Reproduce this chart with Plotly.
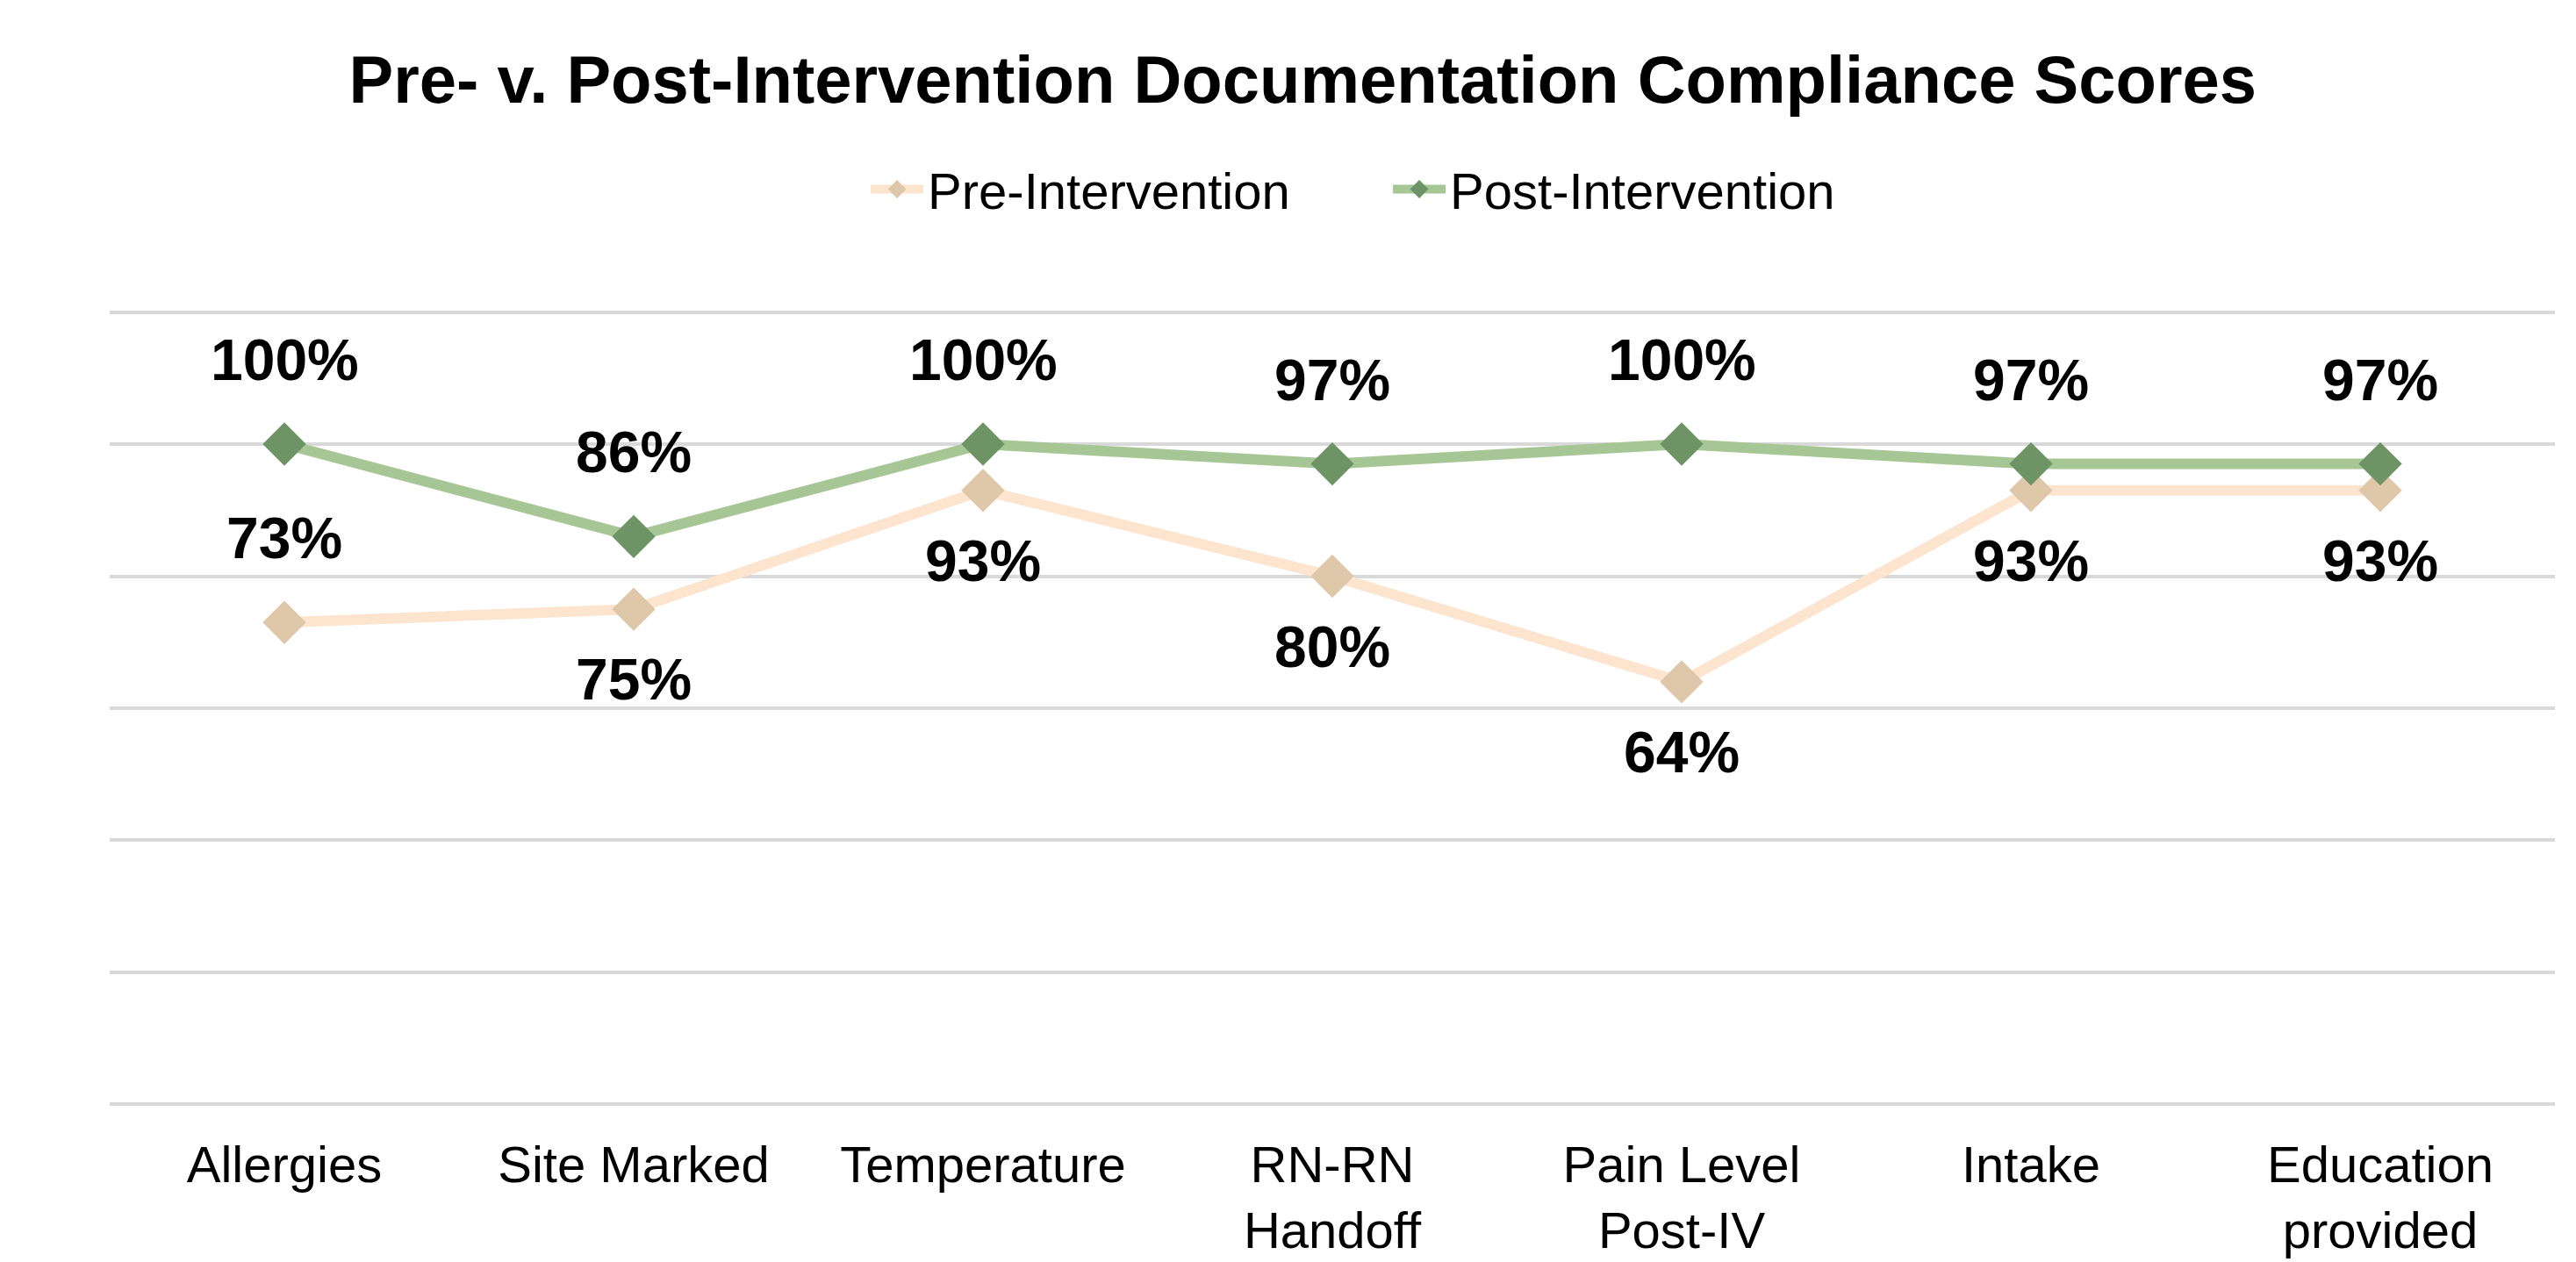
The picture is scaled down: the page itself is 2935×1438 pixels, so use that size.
import plotly.graph_objects as go

categories = ["Allergies", "Site Marked", "Temperature", "RN-RN<br>Handoff",
              "Pain Level<br>Post-IV", "Intake", "Education<br>provided"]
pre_values = [73, 75, 93, 80, 64, 93, 93]
post_values = [100, 86, 100, 97, 100, 97, 97]
pre_label_pos = ["above", "below", "below", "below", "below", "below", "below"]
post_label_pos = ["above"] * 7

FONT = "Liberation Sans, Arial, sans-serif"
PRE_LINE = "#FCE4CF"
PRE_MARK = "#DFC7A9"
POST_LINE = "#A7C695"
POST_MARK = "#6E9465"

fig = go.Figure()
fig.add_trace(go.Scatter(
    x=categories, y=pre_values, name="Pre-Intervention", mode="lines+markers",
    line=dict(color=PRE_LINE, width=12),
    marker=dict(symbol="diamond", size=38, color=PRE_MARK),
))
fig.add_trace(go.Scatter(
    x=categories, y=post_values, name="Post-Intervention", mode="lines+markers",
    line=dict(color=POST_LINE, width=12),
    marker=dict(symbol="diamond", size=38, color=POST_MARK),
))

annotations = []
for vals, poss in ((pre_values, pre_label_pos), (post_values, post_label_pos)):
    for c, v, p in zip(categories, vals, poss):
        annotations.append(dict(
            x=c, y=v, xref="x", yref="y", text=f"<b>{v}%</b>", showarrow=False,
            yanchor="middle", xanchor="center", yshift=96 if p == "above" else -80,
            font=dict(family=FONT, size=66, color="#000000"),
        ))

fig.update_layout(
    width=2935, height=1438, autosize=False,
    paper_bgcolor="#FFFFFF", plot_bgcolor="#FFFFFF",
    margin=dict(l=117, r=32, t=340, b=169),
    font=dict(family=FONT, color="#000000"),
    title=dict(text="<b>Pre- v. Post-Intervention Documentation Compliance Scores</b>",
               x=0.503, xanchor="center", xref="container",
               y=1 - 82 / 1438, yanchor="middle", yref="container",
               font=dict(family=FONT, size=76, color="#000000")),
    legend=dict(orientation="h", x=0.523, xanchor="center", y=1.144, yanchor="middle",
                font=dict(family=FONT, size=58, color="#000000"),
                itemwidth=60, entrywidth=520, traceorder="normal",
                bgcolor="rgba(0,0,0,0)"),
    annotations=annotations,
    showlegend=True,
)
fig.update_xaxes(type="category", range=[-0.5, 6.5], showgrid=False, zeroline=False,
                 showline=False, ticks="", ticklabelstandoff=22,
                 tickfont=dict(family=FONT, size=58, color="#000000"))
fig.update_yaxes(range=[-1, 121], dtick=20, tick0=0, showgrid=True, gridcolor="#D9D9D9",
                 gridwidth=4, zeroline=True, zerolinecolor="#D9D9D9", zerolinewidth=4,
                 showticklabels=False, ticks="", showline=False)

fig.write_html("out.html")
